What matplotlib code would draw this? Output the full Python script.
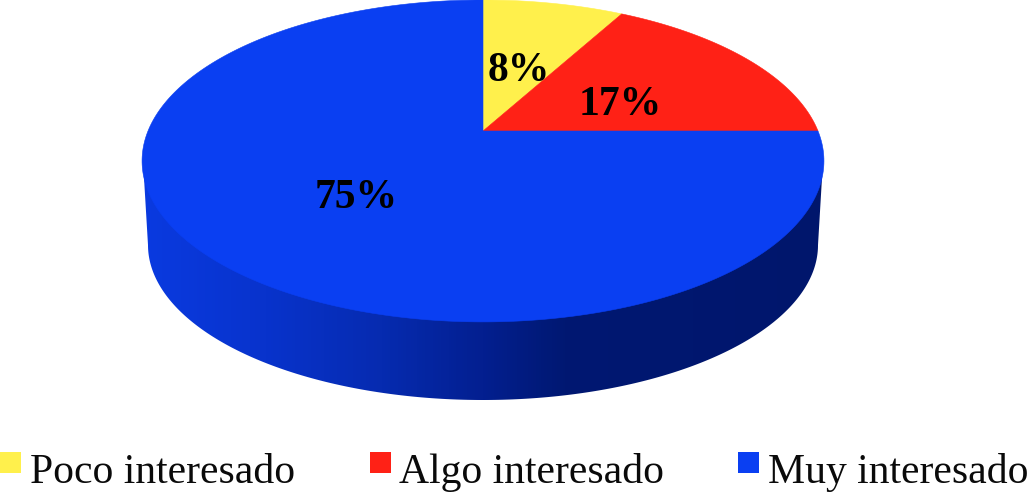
import numpy as np
import matplotlib
matplotlib.use("Agg")
import matplotlib.pyplot as plt
from matplotlib.patches import Polygon, Rectangle
from matplotlib.colors import LinearSegmentedColormap

# Data
categories = ["Poco interesado", "Algo interesado", "Muy interesado"]
values = [8, 17, 75]
labels = ["8%", "17%", "75%"]
colors = ["#FFF04C", "#FF2116", "#0A3FF2"]

# Geometry in pixels (perspective-projected disc)
CX, CY = 483.0, 131.0
RX, A, K = 335.0, 155.4, -0.186


def top_point(frac):
    """Map a clockwise pie fraction from 12 o'clock onto the tilted disc."""
    t = 2 * np.pi * np.asarray(frac)
    u, v = np.sin(t), -np.cos(t)
    w = 1 + K * v
    return CX + RX * u / w, CY + A * v / w


fig = plt.figure(figsize=(10.32, 4.93), dpi=100)
ax = fig.add_axes([0, 0, 1, 1])
ax.set_xlim(0, 1032)
ax.set_ylim(493, 0)
ax.axis("off")

# Side wall: horizontal gradient clipped to the silhouette
side_cmap = LinearSegmentedColormap.from_list(
    "side",
    [(0.0, "#0A3AE0"), (0.18, "#0833CC"), (0.35, "#062BB0"),
     (0.50, "#031F90"), (0.62, "#001872"), (1.0, "#00166C")],
)
grad = np.linspace(0, 1, 680).reshape(1, -1)
im = ax.imshow(grad, cmap=side_cmap, extent=(143, 823, 405, 150), aspect="auto", zorder=1)
ax.set_xlim(0, 1032)
ax.set_ylim(493, 0)
th = np.linspace(0, np.pi, 300)
low_x = 483 + 335 * np.cos(th)
low_y = 245 + 155 * np.sin(th)
sil = np.column_stack([
    np.r_[823, low_x, 143],
    np.r_[161, low_y, 161],
])
clip = Polygon(sil, closed=True, transform=ax.transData, fc="none", ec="none")
ax.add_patch(clip)
im.set_clip_path(clip)

# Top face wedges
cum = np.cumsum([0] + values) / sum(values)
for i, c in enumerate(colors):
    f = np.linspace(cum[i], cum[i + 1], 300)
    x, y = top_point(f)
    pts = np.column_stack([np.r_[CX, x], np.r_[CY, y]])
    ax.add_patch(Polygon(pts, closed=True, fc=c, ec=c, lw=0.4, zorder=2))

# Percent labels
label_pos = [(518.5, 71), (620.5, 105), (356, 198)]
for s, (x, y) in zip(labels, label_pos):
    ax.text(x, y, s, family="Liberation Serif", weight="bold", fontsize=30,
            ha="center", va="center", color="black", zorder=3)

# Legend
sq_x = [0, 370, 738]
tx_x = [30, 399, 768]
for name, c, sx, tx in zip(categories, colors, sq_x, tx_x):
    ax.add_patch(Rectangle((sx, 452), 21, 21, fc=c, ec="none", zorder=3))
    ax.text(tx, 483, name, family="Liberation Serif", fontsize=30,
            ha="left", va="baseline", color="#0a0a0a", zorder=3)

fig.savefig("out.png", dpi=100, facecolor="white")
